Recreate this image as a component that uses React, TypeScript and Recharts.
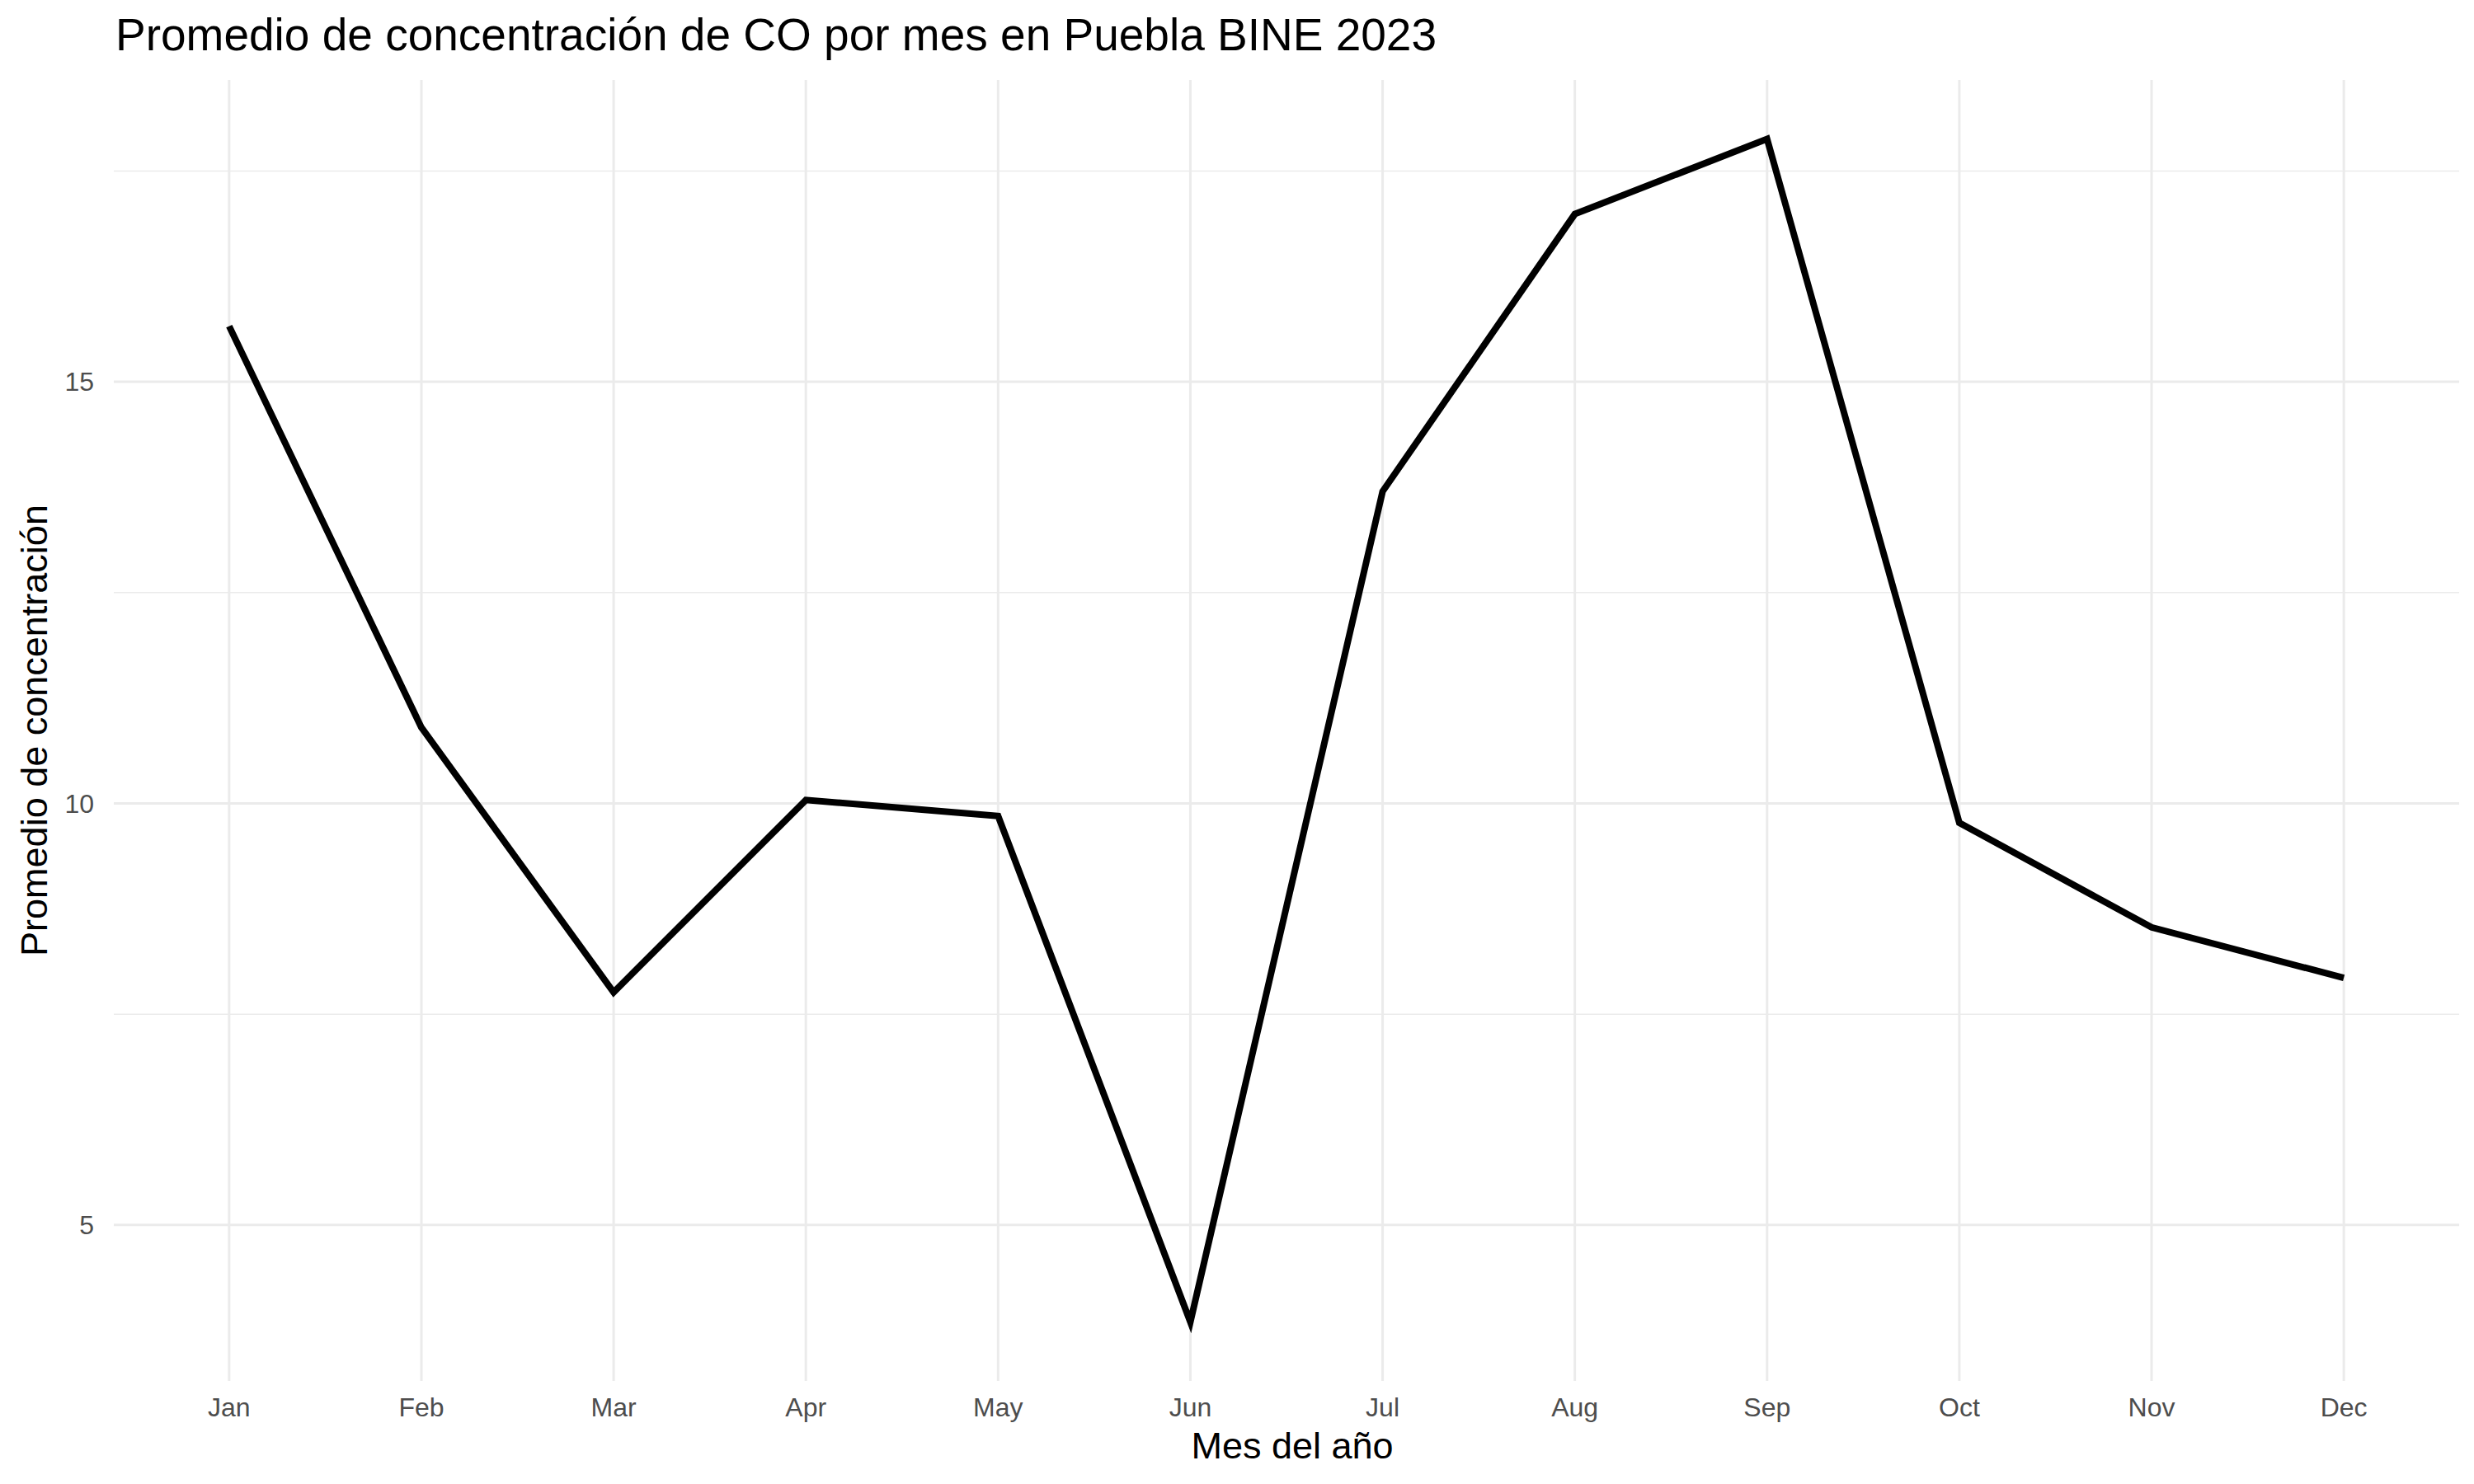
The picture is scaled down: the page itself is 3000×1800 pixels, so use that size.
import { LineChart, Line, XAxis, YAxis, ReferenceLine } from 'recharts';

const months = ['Jan', 'Feb', 'Mar', 'Apr', 'May', 'Jun', 'Jul', 'Aug', 'Sep', 'Oct', 'Nov', 'Dec'];
const concentration = [15.66, 10.9, 7.76, 10.04, 9.85, 3.85, 13.7, 16.99, 17.88, 9.77, 8.53, 7.93];
const yTicks = [5, 10, 15];
const yMinor = [7.5, 12.5, 17.5];

const data = months.map((m, i) => ({ idx: i + 1, month: m, value: concentration[i] }));

const font = '"Liberation Sans", Arial, sans-serif';

export default function App() {
  return (
    <div style={{ position: 'absolute', left: 0, top: 0, width: 3000, height: 1800, background: '#fff', fontFamily: font }}>
      <LineChart width={3000} height={1800} data={data} margin={{ top: 97, right: 18, left: 78, bottom: 0 }}>
        {yMinor.map((v) => (
          <ReferenceLine key={'m' + v} y={v} stroke="#ebebeb" strokeWidth={1.5} />
        ))}
        {yTicks.map((v) => (
          <ReferenceLine key={'y' + v} y={v} stroke="#ebebeb" strokeWidth={3} />
        ))}
        {data.map((d) => (
          <ReferenceLine key={'x' + d.idx} x={d.idx} stroke="#ebebeb" strokeWidth={3} />
        ))}
        <XAxis
          type="number"
          dataKey="idx"
          domain={[0.4, 12.6]}
          ticks={months.map((_, i) => i + 1)}
          tickFormatter={(v) => months[v - 1]}
          axisLine={false}
          tickLine={false}
          tickSize={0}
          tickMargin={20}
          height={125}
          tick={{ fill: '#4d4d4d', fontSize: 32, fontFamily: font }}
        />
        <YAxis
          type="number"
          domain={[3.15, 18.58]}
          ticks={yTicks}
          axisLine={false}
          tickLine={false}
          tickSize={0}
          tickMargin={24}
          width={60}
          tick={{ fill: '#4d4d4d', fontSize: 32, fontFamily: font }}
        />
        <Line type="linear" dataKey="value" stroke="#000" strokeWidth={8} dot={false} isAnimationActive={false} />
      </LineChart>
      <div style={{ position: 'absolute', left: 140, top: 10, fontSize: 55, color: '#000' }}>
        Promedio de concentración de CO por mes en Puebla BINE 2023
      </div>
      <div style={{ position: 'absolute', left: 144, width: 2846, top: 1728, textAlign: 'center', fontSize: 45, color: '#000' }}>
        Mes del año
      </div>
      <div
        style={{
          position: 'absolute',
          left: 42,
          top: 886,
          fontSize: 45,
          color: '#000',
          whiteSpace: 'nowrap',
          transform: 'translate(-50%, -50%) rotate(-90deg)',
        }}
      >
        Promedio de concentración
      </div>
    </div>
  );
}
